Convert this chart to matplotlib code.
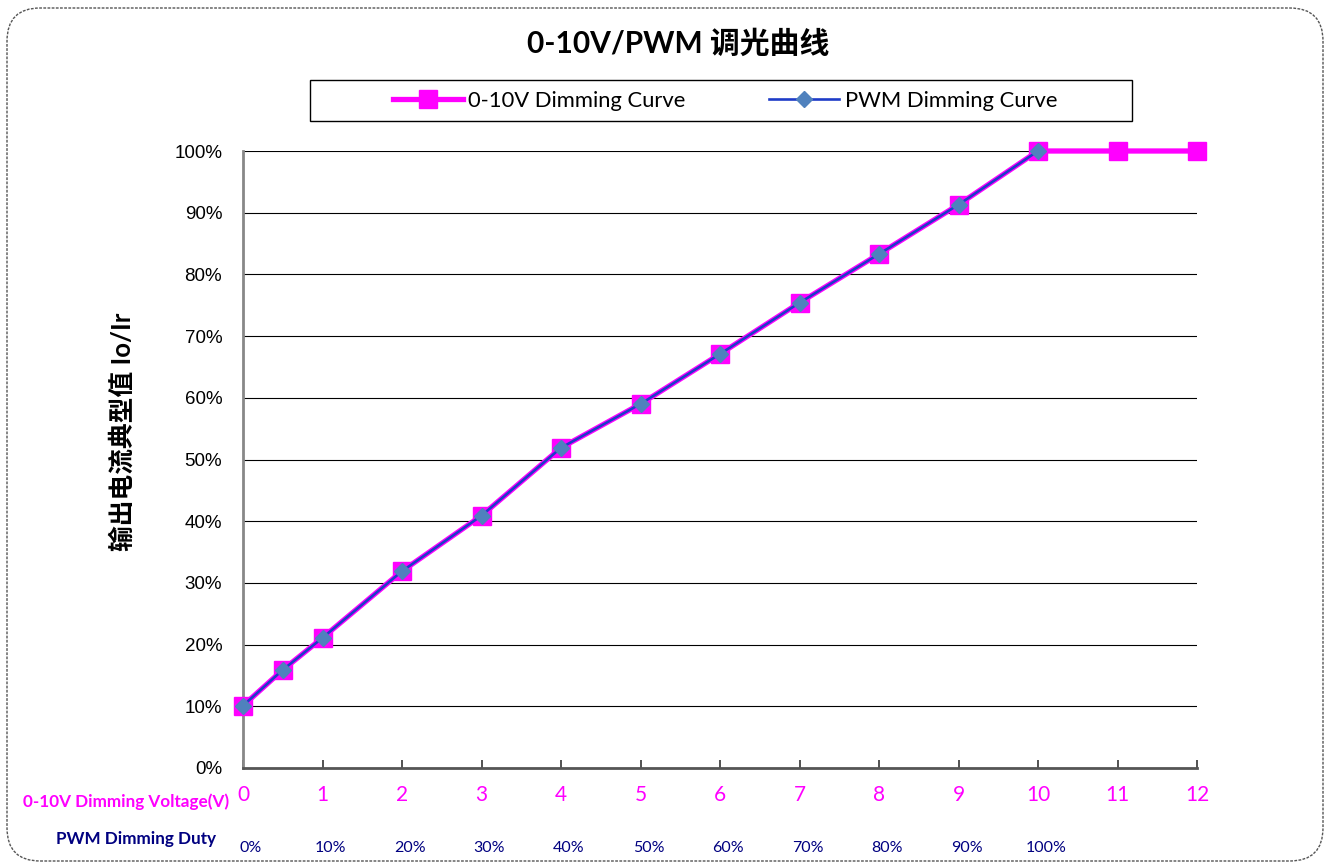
import matplotlib
matplotlib.use("Agg")
import matplotlib.pyplot as plt
from matplotlib.patches import FancyBboxPatch, Rectangle
from matplotlib.ticker import FuncFormatter

# Data
volt_x = [0, 0.5, 1, 2, 3, 4, 5, 6, 7, 8, 9, 10, 11, 12]
volt_y = [10.1, 15.9, 21.1, 31.9, 40.9, 51.9, 59.0, 67.1, 75.4, 83.3, 91.3, 100, 100, 100]
pwm_x = [0, 0.5, 1, 2, 3, 4, 5, 6, 7, 8, 9, 10]
pwm_y = [10.1, 15.9, 21.1, 31.9, 40.9, 51.9, 59.0, 67.1, 75.4, 83.3, 91.3, 100]
volt_ticks = list(range(0, 13))
pwm_labels = ["0%", "10%", "20%", "30%", "40%", "50%", "60%", "70%", "80%", "90%", "100%"]
y_ticks = list(range(0, 101, 10))

LAT = ['Lato', 'Noto Sans CJK SC', 'DejaVu Sans']
ARIAL = ['Liberation Sans', 'DejaVu Sans']

W, H = 1328, 868
fig = plt.figure(figsize=(W / 100, H / 100), dpi=100)

# rounded dashed frame
frame = FancyBboxPatch((7 / W, 7 / H), (1323 - 7) / W, (860 - 7) / H,
                       boxstyle="round,pad=0,rounding_size=0.025",
                       transform=fig.transFigure, fill=False,
                       edgecolor='#555555', linestyle=(0, (2, 1)), linewidth=1.0,
                       mutation_aspect=W / H)
fig.patches.append(frame)

left, right, top, bottom = 243, 1197, 151, 768
ax = fig.add_axes([left / W, 1 - bottom / H, (right - left) / W, (bottom - top) / H])
ax.set_xlim(0, 12)
ax.set_ylim(0, 100)

ax.set_yticks(y_ticks)
ax.yaxis.set_major_formatter(FuncFormatter(lambda v, p: f"{int(v)}%"))
for lab in ax.get_yticklabels():
    lab.set_fontfamily(ARIAL)
ax.tick_params(axis='y', length=0, labelsize=13.5, pad=15)
ax.grid(axis='y', color='black', linewidth=0.8)
ax.set_axisbelow(True)

ax.set_xticks(volt_ticks)
ax.set_xticklabels([str(v) for v in volt_ticks], color='#FF00FF', fontsize=15, family=LAT)
ax.tick_params(axis='x', direction='in', length=6, width=1.2, color='#333333', pad=12)

for s in ['top', 'right']:
    ax.spines[s].set_visible(False)
ax.spines['left'].set_color('#888888')
ax.spines['left'].set_linewidth(2)
ax.spines['bottom'].set_color('#555555')
ax.spines['bottom'].set_linewidth(2)

l1, = ax.plot(volt_x, volt_y, color='#FF00FF', linewidth=3.8, marker='s',
              markersize=13.5, markerfacecolor='#FF00FF', markeredgecolor='#FF00FF',
              label='0-10V Dimming Curve', clip_on=False, zorder=3)
l2, = ax.plot(pwm_x, pwm_y, color='#1E3CC8', linewidth=1.9, marker='D',
              markersize=8, markerfacecolor='#4F81BD', markeredgecolor='#4F81BD',
              label='PWM Dimming Curve', clip_on=False, zorder=4)

# PWM duty labels
for i, lab in enumerate(pwm_labels):
    ax.text(i + 0.1, -13, lab, transform=ax.transData, ha='center', va='center',
            color='#000080', fontsize=11.5, family=LAT, clip_on=False)

fig.text(126 / W, 1 - 802 / H, "0-10V Dimming Voltage(V)", ha='center', va='center',
         color='#FF00FF', fontsize=12.3, fontweight='bold', family=LAT)
fig.text(136 / W, 1 - 839 / H, "PWM Dimming Duty", ha='center', va='center',
         color='#000080', fontsize=12.3, fontweight='bold', family=LAT)

fig.text(122 / W, 1 - 432 / H, "输出电流典型值 Io/Ir", rotation=90, ha='center', va='center',
         fontsize=18.5, fontweight='bold', family=LAT)

fig.text(678 / W, 1 - 44 / H, "0-10V/PWM 调光曲线", ha='center', va='center',
         fontsize=21.5, fontweight='bold', family=LAT)

# legend frame drawn separately (wide box)
fig.patches.append(Rectangle((310 / W, 1 - 121 / H), (1132 - 310) / W, (121 - 80) / H,
                             transform=fig.transFigure, fill=False,
                             edgecolor='black', linewidth=1.0))
leg = fig.legend(handles=[l1, l2], loc='center', ncol=2,
                 bbox_to_anchor=(725 / W, 1 - 101 / H), frameon=False,
                 prop={'family': LAT, 'size': 15.8},
                 handlelength=3.2, handletextpad=0.25, columnspacing=3.8, borderpad=0.3,
                 borderaxespad=0)

fig.savefig("out.png", dpi=100)
